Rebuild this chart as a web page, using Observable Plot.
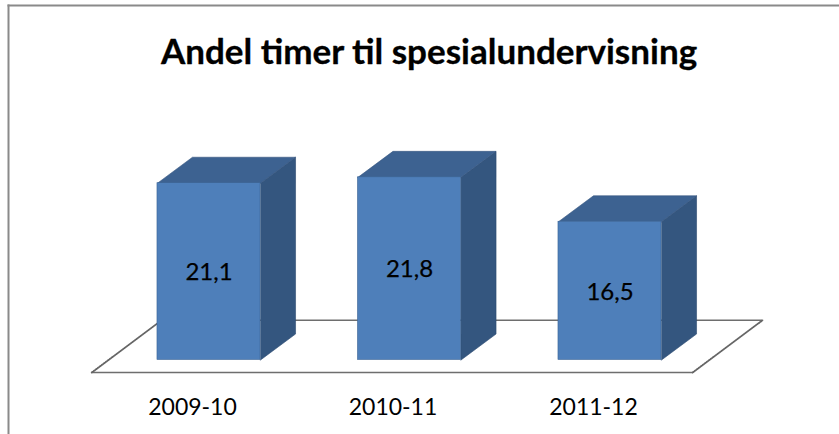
<!DOCTYPE html>
<html>
<head>
<meta charset="utf-8">
<script src="https://cdn.jsdelivr.net/npm/d3@7"></script>
<script src="https://cdn.jsdelivr.net/npm/@observablehq/plot@0.6"></script>
<style>
html,body{margin:0;padding:0;background:#fff;overflow:hidden}
svg{display:block}
</style>
</head>
<body>
<div id="chart"></div>
<script>
const titleText = "Andel timer til spesialundervisning";
const periods = ["2009-10", "2010-11", "2011-12"];
const values = [21.1, 21.8, 16.5];
const labels = ["21,1", "21,8", "16,5"];

// Pseudo-3D geometry, in data units
const halfW = 0.257, depthX = 0.1746, depthY = 3.1;
const floorFront = -1.5, floorBack = 4.75;
const floorLeft = -0.585, floorRight = 2.412;

const poly = (face, i, pts) => pts.map(([x, y]) => ({face: `${face}${i}`, x, y}));
const sides = values.flatMap((v, i) => poly("side", i, [
  [i + halfW, 0], [i + halfW + depthX, depthY], [i + halfW + depthX, v + depthY], [i + halfW, v]
]));
const tops = values.flatMap((v, i) => poly("top", i, [
  [i - halfW, v], [i - halfW + depthX, v + depthY], [i + halfW + depthX, v + depthY], [i + halfW, v]
]));
const table = values.map((v, i) => ({i, v, label: labels[i]}));

const fl = {x: floorLeft, xb: floorLeft + 2 * depthX, xr: floorRight, xrb: floorRight + 2 * depthX};
const floorPoly = poly("floor", 0, [[fl.x, floorFront], [fl.xr, floorFront], [fl.xrb, floorBack], [fl.xb, floorBack]]);
const solidEdges = [
  ...poly("front", 0, [[fl.x, floorFront], [fl.xr, floorFront]]),
  ...poly("back", 0, [[fl.xb, floorBack], [fl.xrb, floorBack]])
];
const dashedEdges = [
  ...poly("l", 0, [[fl.x, floorFront], [fl.xb, floorBack]]),
  ...poly("r", 0, [[fl.xr, floorFront], [fl.xrb, floorBack]])
];

const chart = Plot.plot({
  width: 839,
  height: 434,
  marginTop: 5,
  marginLeft: 8,
  marginRight: 0,
  marginBottom: 0,
  style: {fontFamily: "Lato, Carlito, sans-serif", background: "#fff", color: "#000"},
  x: {type: "linear", domain: [0, 2], range: [208.5, 609.5], label: null},
  y: {type: "linear", domain: [0, 21.1], range: [359.5, 182.7], label: null, axis: null},
  marks: [
    Plot.frame({anchor: "left", stroke: "#8a8a8a", strokeWidth: 2}),
    Plot.frame({anchor: "top", stroke: "#8a8a8a", strokeWidth: 2}),
    Plot.line(floorPoly, {x: "x", y: "y", z: "face", fill: "#fff", stroke: "none"}),
    Plot.line(solidEdges, {x: "x", y: "y", z: "face", stroke: "#6e6e6e", strokeWidth: 1.6}),
    Plot.line(dashedEdges, {x: "x", y: "y", z: "face", stroke: "#666", strokeWidth: 1.8, strokeDasharray: "1.5,1"}),
    Plot.line(sides, {x: "x", y: "y", z: "face", fill: "#34567f", stroke: "#2c4a70", strokeWidth: 0.6, curve: "linear-closed"}),
    Plot.line(tops, {x: "x", y: "y", z: "face", fill: "#3d6291", stroke: "#35557f", strokeWidth: 0.6, curve: "linear-closed"}),
    Plot.rect(table, {x1: d => d.i - halfW, x2: d => d.i + halfW, y1: 0, y2: "v", fill: "#4e7fba", stroke: "#3e6696", strokeWidth: 0.6}),
    Plot.text(table, {x: "i", y: d => d.v / 2, text: "label", fontSize: 24, fill: "#000", stroke: "#000", strokeWidth: 0.25, dy: 1}),
    Plot.axisX({anchor: "bottom", ticks: [0, 1, 2], tickFormat: i => periods[i], tickSize: 0, tickPadding: 0, dx: -16.5, dy: -27, fontSize: 23, lineAnchor: "middle", label: null}),
    Plot.text([titleText], {frameAnchor: "top", dx: 5, dy: 47, fontSize: 35, fontWeight: 700, fill: "#000", stroke: "#000", strokeWidth: 0.3, lineAnchor: "middle"})
  ]
});
document.getElementById("chart").append(chart);
</script>
</body>
</html>
